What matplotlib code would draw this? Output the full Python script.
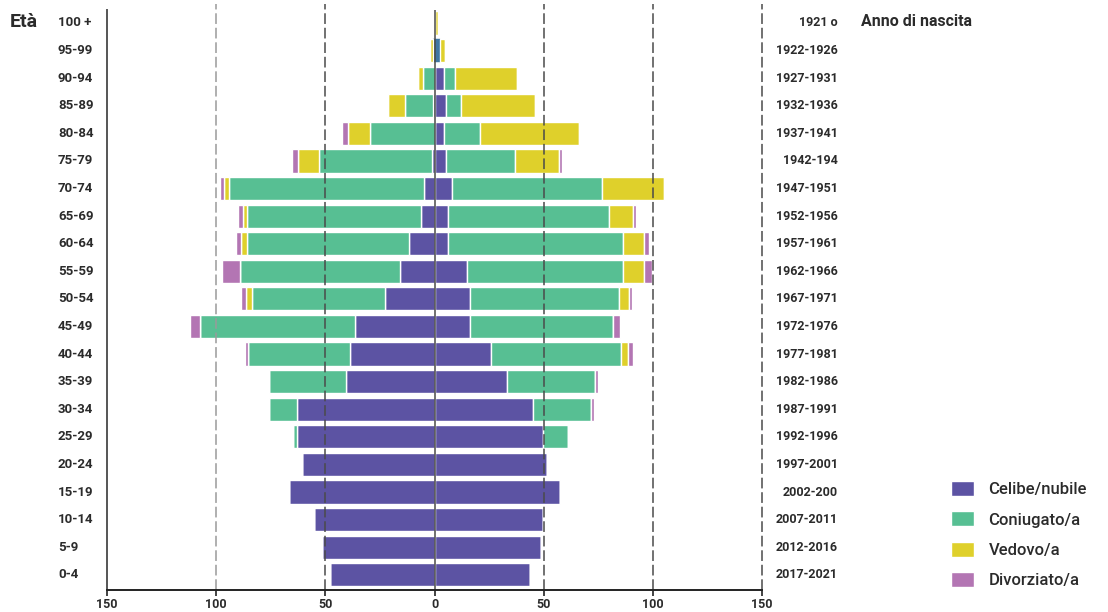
import matplotlib
matplotlib.use("Agg")
import matplotlib.pyplot as plt
import matplotlib.transforms as mtransforms
from matplotlib.patches import Patch
import numpy as np

# ---------------- data (top row first) ----------------
ages = ['100 +', '95-99', '90-94', '85-89', '80-84', '75-79', '70-74', '65-69', '60-64',
        '55-59', '50-54', '45-49', '40-44', '35-39', '30-34', '25-29', '20-24', '15-19',
        '10-14', '5-9', '0-4']
birth_years = ['1921 o', '1922-1926', '1927-1931', '1932-1936', '1937-1941', '1942-194',
               '1947-1951', '1952-1956', '1957-1961', '1962-1966', '1967-1971', '1972-1976',
               '1977-1981', '1982-1986', '1987-1991', '1992-1996', '1997-2001', '2002-200',
               '2007-2011', '2012-2016', '2017-2021']

# Maschi (left side)
m_celibe = [0, 0.5, 0, 0.7, 0, 1.1, 4.7, 6.1, 11.6, 15.7, 22.6, 36.4, 38.5, 40.5, 63.0, 63.0,
            60.8, 66.6, 55.4, 51.7, 47.8]
m_coniugato = [0, 0, 5.4, 12.6, 29.7, 51.6, 89.4, 79.7, 74.2, 73.2, 61.2, 71.2, 47.1, 35.1,
               12.6, 1.9, 0, 0, 0, 0, 0]
m_vedovo = [0, 1.5, 2.0, 8.2, 9.9, 9.7, 2.4, 1.7, 3.0, 0, 2.7, 0, 0, 0, 0, 0, 0, 0, 0, 0, 0]
m_divorziato = [0, 0, 0, 0, 2.8, 2.7, 1.6, 2.5, 2.2, 8.2, 2.2, 4.4, 1.4, 0, 0, 0, 0, 0, 0, 0, 0]

# Femmine (right side)
f_celibe = [0, 1.2, 4.3, 5.2, 4.3, 5.3, 8.0, 6.1, 6.1, 14.8, 16.1, 16.1, 26.1, 33.3, 45.1, 49.9,
            51.5, 57.7, 49.8, 48.9, 43.8]
f_coniugato = [0, 1.3, 4.9, 6.9, 16.4, 31.5, 68.9, 73.8, 80.4, 71.7, 68.6, 65.6, 59.5, 40.4,
               26.4, 11.4, 0, 0, 0, 0, 0]
f_vedovo = [1.7, 2.2, 28.4, 34.0, 45.6, 20.1, 28.3, 11.1, 9.4, 9.4, 4.2, 0, 3.2, 0, 0, 0, 0, 0,
            0, 0, 0]
f_divorziato = [0, 0, 0, 0, 0, 1.3, 0, 1.1, 2.2, 3.8, 1.4, 3.3, 2.1, 1.2, 1.4, 0, 0, 0, 0, 0, 0]

statuses = ['Celibe/nubile', 'Coniugato/a', 'Vedovo/a', 'Divorziato/a']
x_ticks = [-150, -100, -50, 0, 50, 100, 150]
x_ticklabels = ['150', '100', '50', '0', '50', '100', '150']
blend_row = '95-99'   # row drawn in a blended blue tone in the original

# ---------------- style ----------------
colors = ['#5C53A3', '#57BF93', '#DFD02B', '#B375B3']
blend_color = '#3F76A2'
txt = '#2b2b2b'
plt.rcParams['font.family'] = ['Roboto', 'DejaVu Sans']

fig = plt.figure(figsize=(11.08, 6.12), dpi=100)
ax = fig.add_axes([107 / 1108, 1 - 590 / 612, (762 - 107) / 1108, (590 - 10) / 612])

n = len(ages)
y = np.arange(n)[::-1]  # top row at highest y
h = 0.84

male = [m_celibe, m_coniugato, m_vedovo, m_divorziato]
female = [f_celibe, f_coniugato, f_vedovo, f_divorziato]

left_m = np.zeros(n)
left_f = np.zeros(n)
bi = ages.index(blend_row)
for k in range(4):
    vm = np.array(male[k], dtype=float)
    vf = np.array(female[k], dtype=float)
    bm = ax.barh(y, -vm, left=-left_m, height=h, color=colors[k], edgecolor='white',
                 linewidth=1, zorder=2)
    bf = ax.barh(y, vf, left=left_f, height=h, color=colors[k], edgecolor='white',
                 linewidth=1, zorder=2)
    if k in (0, 1):
        for p in (bm.patches[bi], bf.patches[bi]):
            p.set_facecolor(blend_color)
            p.set_edgecolor(blend_color)
            p.set_linewidth(0.3)
    left_m += vm
    left_f += vf

ax.set_xlim(-150, 150)
ax.set_ylim(-0.55, n - 1 + 0.47)

# grid lines
for xv in [-100, -50, 50, 100, 150]:
    ax.axvline(xv, color='#9a9a9a' if xv == -100 else '#4a4a4a', lw=1.1,
               dashes=(7, 2.5), zorder=3, ymax=1.01, clip_on=False)
ax.axvline(0, color='#4a4a4a', lw=1.1, zorder=3)

for s in ['top', 'right']:
    ax.spines[s].set_visible(False)
ax.spines['left'].set_color('#555555')
ax.spines['left'].set_linewidth(1.4)
ax.spines['bottom'].set_color('#222222')
ax.spines['bottom'].set_linewidth(1.4)
ax.spines['bottom'].set_zorder(4)

ax.set_xticks(x_ticks)
ax.set_xticklabels(x_ticklabels, fontsize=9, fontweight='bold', color=txt)
ax.tick_params(axis='x', length=4, width=1.2, color='#222222', pad=2)
ax.set_yticks([])

# age labels (left) and birth years (right)
trans = mtransforms.blended_transform_factory(fig.transFigure, ax.transData)
for i in range(n):
    ax.text(58 / 1108, y[i], ages[i], transform=trans, ha='left', va='center',
            fontsize=9.5, fontweight='bold', color=txt)
    ax.text(838 / 1108, y[i], birth_years[i], transform=trans, ha='right', va='center',
            fontsize=9, fontweight='bold', color=txt)

fig.text(10 / 1108, 1 - 22 / 612, 'Età', ha='left', va='center', fontsize=14,
         fontweight='bold', color=txt)
fig.text(861 / 1108, 1 - 22 / 612, 'Anno di nascita', ha='left', va='center', fontsize=11.5,
         fontweight='bold', color=txt)

handles = [Patch(facecolor=c, edgecolor='white', label=l) for c, l in zip(colors, statuses)]
leg = fig.legend(handles=handles, loc='upper left',
                 bbox_to_anchor=(951 / 1108, 1 - 481 / 612), frameon=False,
                 borderpad=0, borderaxespad=0, handlelength=1.35, handleheight=1.0,
                 handletextpad=0.9, labelspacing=0.85,
                 prop={'family': ['Roboto', 'DejaVu Sans'], 'size': 12, 'weight': 'medium'})
for t in leg.get_texts():
    t.set_color(txt)

fig.savefig('out.png', dpi=100)
